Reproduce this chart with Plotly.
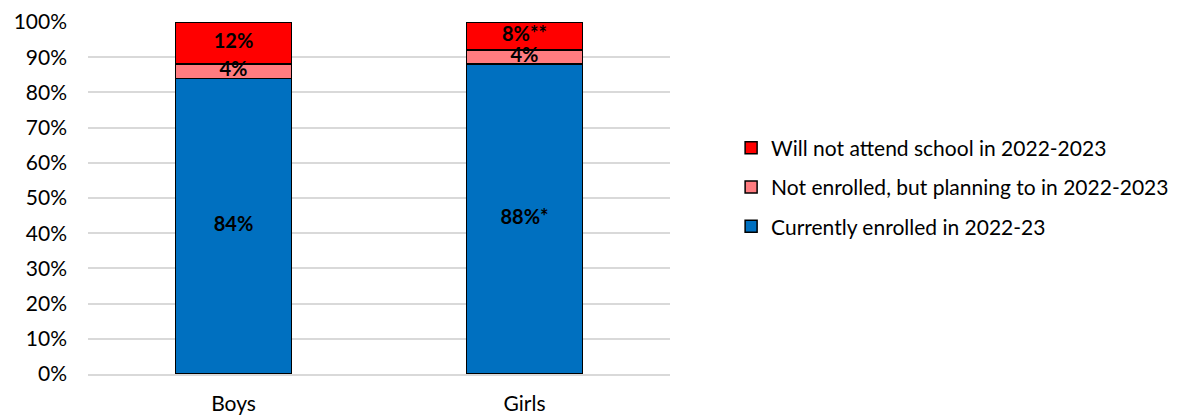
import plotly.graph_objects as go

categories = ["Boys", "Girls"]
enrolled = [84, 88]
planning = [4, 4]
not_attend = [12, 8]
enrolled_labels = ["84%", "88%*"]
planning_labels = ["4%", "4%"]
not_attend_labels = ["12%", "8%**"]
series_names = ["Currently enrolled in 2022-23",
                "Not enrolled, but planning to in 2022-2023",
                "Will not attend school in 2022-2023"]
colors = ["#0070C0", "#FF7C80", "#FF0000"]
tick_vals = list(range(0, 101, 10))
tick_text = [f"{v}%" for v in tick_vals]

FONT = "Lato"
fig = go.Figure()
series = [enrolled, planning, not_attend]
labels = [enrolled_labels, planning_labels, not_attend_labels]
for i, (vals, name, col) in enumerate(zip(series, series_names, colors)):
    fig.add_trace(go.Bar(x=categories, y=vals, name=name, legendgroup=str(i),
                         legendrank=1000 - i,
                         marker=dict(color=col, line=dict(color="black", width=1.5)),
                         hoverinfo="skip"))

# label positions at the middle of each segment
base = [0] * len(categories)
for vals, labs in zip(series, labels):
    mids = [b + v / 2 for b, v in zip(base, vals)]
    fig.add_trace(go.Scatter(x=categories, y=mids, mode="text", text=labs,
                             textfont=dict(family=FONT, size=20, color="black", weight="bold"),
                             showlegend=False, hoverinfo="skip"))
    base = [b + v for b, v in zip(base, vals)]

fig.update_layout(
    width=1191, height=416,
    margin=dict(l=88, r=521, t=22, b=42),
    paper_bgcolor="white", plot_bgcolor="white",
    barmode="stack", bargap=0.6,
    font=dict(family=FONT, size=21, color="black"),
    showlegend=True,
    legend=dict(x=1.105, xanchor="left", y=0.531, yanchor="middle",
                traceorder="grouped", tracegroupgap=9,
                font=dict(family=FONT, size=21, color="black")),
)
fig.update_yaxes(range=[0, 100], tickvals=tick_vals, ticktext=tick_text,
                 showgrid=True, gridcolor="#D9D9D9", gridwidth=1.5,
                 zeroline=False, showline=False, ticks="", ticklabelstandoff=20,
                 automargin=False)
fig.update_xaxes(showline=True, linecolor="#D9D9D9", linewidth=1.5, ticks="",
                 ticklabelstandoff=10, automargin=False)

fig.write_html("out.html")
